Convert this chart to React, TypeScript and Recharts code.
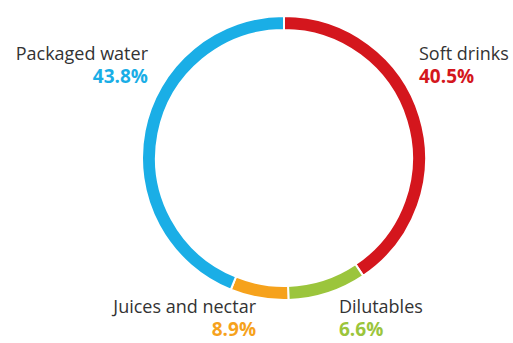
import { PieChart, Pie, Cell } from "recharts";

// arcs as drawn in the picture (clockwise from 12 o'clock)
const categories = ["Soft drinks", "Dilutables", "Juices and nectar", "Packaged water"];
const arcShares = [40.5, 8.9, 6.6, 43.8];
const shareLabels = ["40.5%", "6.6%", "8.9%", "43.8%"];
const colors = ["#d4161d", "#9bc53c", "#f6a21c", "#1aaee6"];

// where each label block sits (x, baseline of first line, gap to second line, anchor)
const labelLayout: { x: number; y: number; gap: number; anchor: "start" | "end" }[] = [
  { x: 419, y: 60, gap: 23, anchor: "start" },
  { x: 339, y: 313, gap: 23, anchor: "start" },
  { x: 256, y: 313, gap: 23, anchor: "end" },
  { x: 148, y: 60, gap: 23, anchor: "end" },
];

const data = categories.map((name, i) => ({ name, value: arcShares[i], label: shareLabels[i] }));

const renderLabel = (props: any) => {
  const { index } = props;
  const pos = labelLayout[index];
  return (
    <g key={`lbl-${index}`}>
      <text x={pos.x} y={pos.y} textAnchor={pos.anchor} fontSize={18} fill="#333" fontFamily="Open Sans, sans-serif">
        {categories[index]}
      </text>
      <text x={pos.x} y={pos.y + pos.gap} textAnchor={pos.anchor} fontSize={19} fontWeight="bold" fill={colors[index]} fontFamily="Open Sans, sans-serif">
        {shareLabels[index]}
      </text>
    </g>
  );
};

export default function App() {
  return (
    <div style={{ position: "absolute", left: 0, top: 0, width: 513, height: 343, background: "#fff" }}>
      <PieChart width={513} height={343} margin={{ top: 0, right: 0, bottom: 0, left: 0 }}>
        <Pie
          data={data}
          dataKey="value"
          cx={284}
          cy={158}
          outerRadius={142}
          innerRadius={128}
          startAngle={90}
          endAngle={-270}
          stroke="#fff"
          strokeWidth={2}
          label={renderLabel}
          labelLine={false}
          isAnimationActive={false}
        >
          {data.map((d, i) => (
            <Cell key={`cell-${d.name}`} fill={colors[i]} />
          ))}
        </Pie>
      </PieChart>
    </div>
  );
}
